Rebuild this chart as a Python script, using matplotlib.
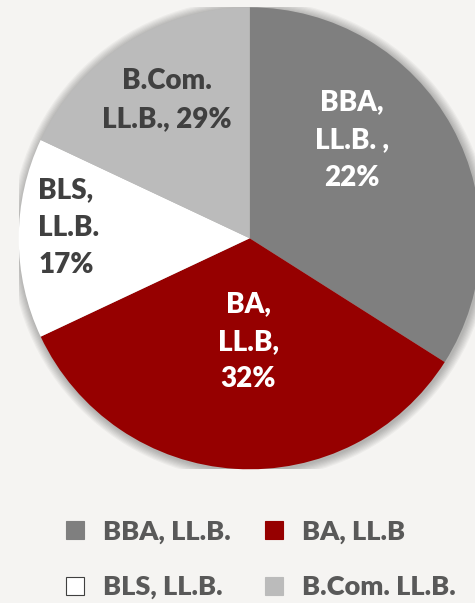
import matplotlib
matplotlib.use("Agg")
import matplotlib.pyplot as plt
from matplotlib.lines import Line2D
from matplotlib.patches import Circle

# slice sizes as drawn and the printed data labels
courses = ["BBA, LL.B.", "BA, LL.B", "BLS, LL.B.", "B.Com. LL.B."]
slice_sizes = [34, 34, 14, 18]
label_texts = ["BBA,\nLL.B. ,\n22%", "BA,\nLL.B,\n32%", "BLS,\nLL.B.\n17%", "B.Com.\nLL.B., 29%"]
colors = ["#7f7f7f", "#960000", "#ffffff", "#bbbbbb"]
label_colors = ["white", "white", "#404040", "#404040"]

bg = "#f5f4f2"
plt.rcParams["font.family"] = ["Lato", "DejaVu Sans"]

fig = plt.figure(figsize=(4.75, 6.03), dpi=100, facecolor=bg)
ax = fig.add_axes([0.0394, 0.2217, 0.9726, 0.7662])
ax.set_facecolor(bg)

# soft shadow around the pie
for i in range(8):
    r = 1.0 + 0.005 * (i + 1)
    ax.add_patch(Circle((0.004, -0.006), r, color="black", alpha=0.035, lw=0, zorder=0))

wedges, _ = ax.pie(slice_sizes, colors=colors, startangle=90, counterclock=False,
                   radius=1.0, wedgeprops=dict(linewidth=0))
for w in wedges:
    w.set_zorder(2)

# label placement (data coords, pie radius = 1)
label_pos = [(0.443, 0.425, "center"), (-0.007, -0.448, "center"),
             (-0.916, 0.045, "left"), (-0.357, 0.598, "center")]
for txt, col, (x, y, ha) in zip(label_texts, label_colors, label_pos):
    ax.text(x, y, txt, ha=ha, va="center", multialignment=ha, color=col,
            fontsize=20, fontweight="heavy", linespacing=1.55, zorder=3)

ax.set_xlim(-1, 1)
ax.set_ylim(-1, 1)
ax.set_aspect("equal")
ax.axis("off")

handles = []
for c in colors:
    ec = "#404040" if c == "#ffffff" else c
    handles.append(Line2D([0], [0], marker="s", linestyle="none", markersize=13,
                          markerfacecolor=c, markeredgecolor=ec, markeredgewidth=0.8))

# column-wise order for two columns: BBA, BLS | BA, B.Com
order = [0, 2, 1, 3]
leg = fig.legend([handles[i] for i in order], [courses[i] for i in order],
                 loc="center", bbox_to_anchor=(0.548, 0.072), ncol=2, frameon=False,
                 fontsize=19.5, handlelength=0.75, handletextpad=0.65,
                 columnspacing=1.25, labelspacing=1.15)
for t in leg.get_texts():
    t.set_color("#595959")
    t.set_fontweight("heavy")

fig.savefig("out.png", dpi=100, facecolor=bg)
